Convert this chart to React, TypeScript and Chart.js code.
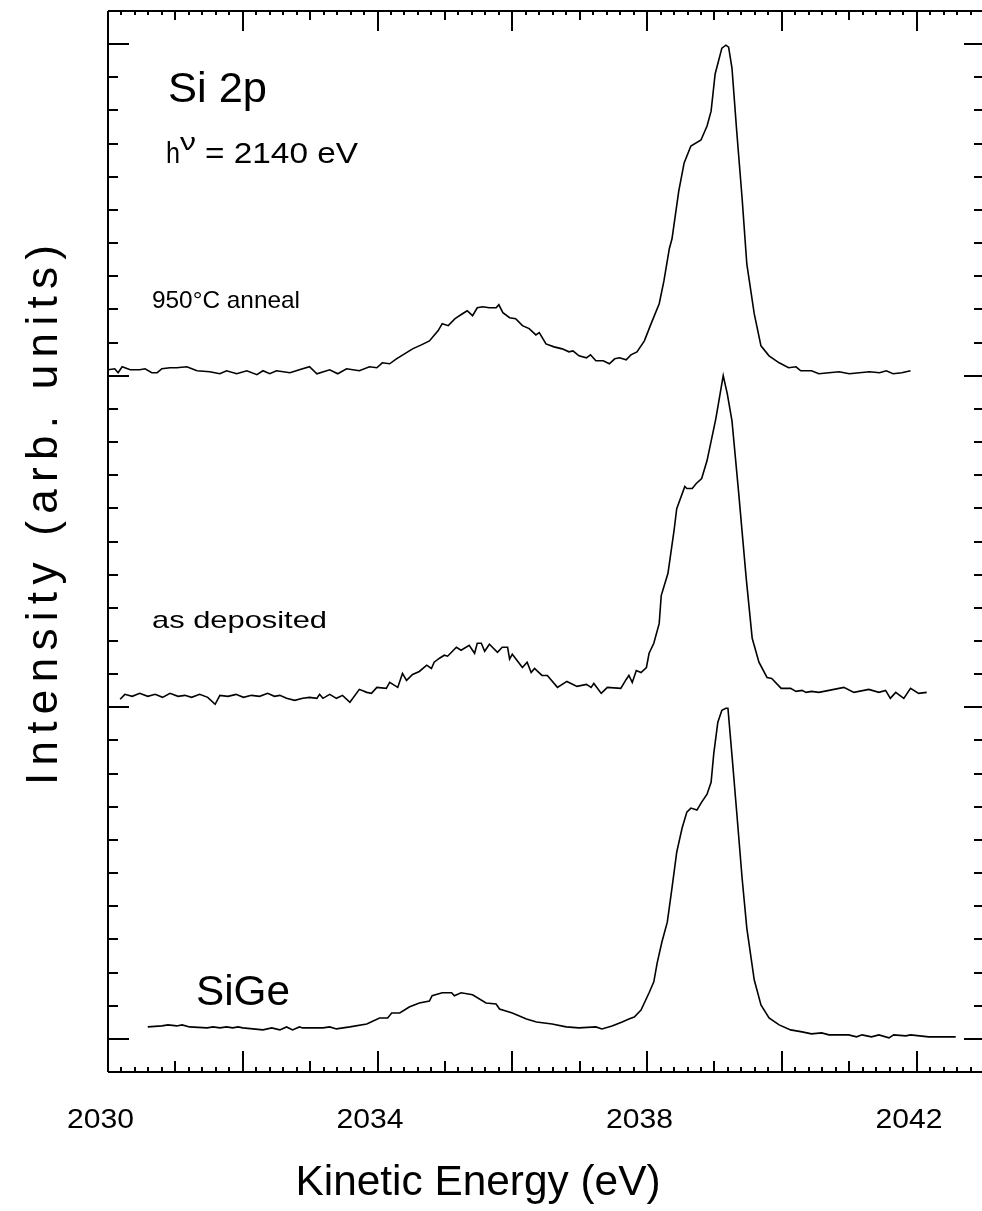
import React, { useEffect, useRef } from "react";
import { Chart, registerables } from "chart.js";

Chart.register(...registerables);

// ---- Data (Kinetic energy in eV, intensity in arb. units incl. vertical offsets) ----
const ANNEAL_950C: [number, number][] = [
  [2030.00, 2.018], [2030.10, 2.021], [2030.15, 2.009], [2030.21, 2.027], [2030.33, 2.018],
  [2030.47, 2.018], [2030.55, 2.021], [2030.65, 2.009], [2030.73, 2.009], [2030.80, 2.021],
  [2030.92, 2.024], [2031.02, 2.024], [2031.17, 2.027], [2031.32, 2.015], [2031.51, 2.012],
  [2031.66, 2.006], [2031.76, 2.015], [2031.91, 2.006], [2032.06, 2.015], [2032.21, 2.003],
  [2032.30, 2.015], [2032.40, 2.006], [2032.50, 2.015], [2032.70, 2.009], [2032.84, 2.018],
  [2032.99, 2.027], [2033.10, 2.006], [2033.29, 2.018], [2033.41, 2.006], [2033.54, 2.021],
  [2033.73, 2.015], [2033.88, 2.027], [2033.99, 2.024], [2034.07, 2.039], [2034.18, 2.036],
  [2034.28, 2.051], [2034.52, 2.081], [2034.65, 2.093], [2034.77, 2.105], [2034.90, 2.136],
  [2034.96, 2.157], [2035.05, 2.151], [2035.15, 2.172], [2035.26, 2.187], [2035.33, 2.196],
  [2035.41, 2.181], [2035.48, 2.205], [2035.56, 2.208], [2035.66, 2.205], [2035.76, 2.205],
  [2035.80, 2.214], [2035.86, 2.190], [2035.96, 2.175], [2036.05, 2.172], [2036.15, 2.151],
  [2036.25, 2.142], [2036.35, 2.123], [2036.40, 2.130], [2036.50, 2.096], [2036.62, 2.087],
  [2036.74, 2.081], [2036.84, 2.072], [2036.90, 2.075], [2036.99, 2.060], [2037.10, 2.054],
  [2037.16, 2.063], [2037.24, 2.045], [2037.35, 2.045], [2037.44, 2.036], [2037.52, 2.051],
  [2037.59, 2.054], [2037.69, 2.048], [2037.76, 2.063], [2037.85, 2.072], [2037.96, 2.105],
  [2038.06, 2.157], [2038.18, 2.217], [2038.25, 2.286], [2038.33, 2.383], [2038.37, 2.413],
  [2038.47, 2.557], [2038.55, 2.642], [2038.65, 2.693], [2038.80, 2.711], [2038.89, 2.753],
  [2038.95, 2.798], [2039.01, 2.910], [2039.11, 2.988], [2039.17, 2.997], [2039.21, 2.991],
  [2039.26, 2.928], [2039.33, 2.738], [2039.41, 2.536], [2039.48, 2.337], [2039.59, 2.187],
  [2039.69, 2.090], [2039.81, 2.060], [2039.96, 2.039], [2040.10, 2.024], [2040.21, 2.027],
  [2040.28, 2.015], [2040.44, 2.015], [2040.55, 2.006], [2040.70, 2.009], [2040.85, 2.012],
  [2041.00, 2.006], [2041.15, 2.009], [2041.30, 2.012], [2041.45, 2.009], [2041.55, 2.015],
  [2041.65, 2.006], [2041.78, 2.009], [2041.91, 2.015],
];

const AS_DEPOSITED: [number, number][] = [
  [2030.18, 1.024], [2030.25, 1.039], [2030.36, 1.033], [2030.47, 1.042], [2030.59, 1.033],
  [2030.70, 1.039], [2030.81, 1.030], [2030.92, 1.042], [2031.04, 1.033], [2031.14, 1.036],
  [2031.24, 1.030], [2031.36, 1.039], [2031.48, 1.030], [2031.59, 1.009], [2031.66, 1.036],
  [2031.78, 1.033], [2031.90, 1.039], [2032.01, 1.030], [2032.13, 1.036], [2032.25, 1.033],
  [2032.37, 1.042], [2032.47, 1.033], [2032.55, 1.036], [2032.65, 1.027], [2032.77, 1.021],
  [2032.89, 1.027], [2032.99, 1.030], [2033.10, 1.027], [2033.14, 1.039], [2033.19, 1.027],
  [2033.29, 1.039], [2033.39, 1.027], [2033.48, 1.036], [2033.59, 1.015], [2033.73, 1.054],
  [2033.84, 1.045], [2033.91, 1.042], [2033.99, 1.060], [2034.13, 1.057], [2034.18, 1.075],
  [2034.30, 1.060], [2034.37, 1.102], [2034.43, 1.081], [2034.52, 1.099], [2034.62, 1.108],
  [2034.73, 1.127], [2034.80, 1.117], [2034.84, 1.136], [2034.92, 1.148], [2034.99, 1.157],
  [2035.04, 1.154], [2035.17, 1.181], [2035.24, 1.172], [2035.36, 1.187], [2035.44, 1.163],
  [2035.48, 1.193], [2035.54, 1.193], [2035.59, 1.169], [2035.66, 1.190], [2035.78, 1.166],
  [2035.85, 1.181], [2035.93, 1.181], [2035.96, 1.145], [2036.00, 1.160], [2036.15, 1.120],
  [2036.22, 1.136], [2036.28, 1.105], [2036.33, 1.117], [2036.44, 1.096], [2036.52, 1.096],
  [2036.67, 1.060], [2036.81, 1.078], [2036.96, 1.063], [2037.10, 1.069], [2037.17, 1.060],
  [2037.21, 1.072], [2037.32, 1.042], [2037.41, 1.060], [2037.61, 1.057], [2037.69, 1.084],
  [2037.73, 1.096], [2037.78, 1.075], [2037.84, 1.111], [2037.91, 1.105], [2037.99, 1.120],
  [2038.03, 1.163], [2038.10, 1.193], [2038.18, 1.253], [2038.21, 1.337], [2038.31, 1.404],
  [2038.40, 1.533], [2038.44, 1.599], [2038.56, 1.666], [2038.59, 1.660], [2038.67, 1.660],
  [2038.73, 1.675], [2038.81, 1.690], [2038.89, 1.744], [2039.02, 1.870], [2039.13, 2.000],
  [2039.19, 1.946], [2039.26, 1.864], [2039.36, 1.645], [2039.47, 1.392], [2039.56, 1.208],
  [2039.66, 1.136], [2039.78, 1.090], [2039.85, 1.087], [2039.99, 1.057], [2040.13, 1.057],
  [2040.21, 1.048], [2040.30, 1.051], [2040.36, 1.045], [2040.44, 1.048], [2040.55, 1.045],
  [2040.70, 1.051], [2040.92, 1.060], [2041.07, 1.045], [2041.29, 1.054], [2041.44, 1.045],
  [2041.54, 1.051], [2041.61, 1.027], [2041.69, 1.045], [2041.81, 1.027], [2041.91, 1.057],
  [2042.03, 1.042], [2042.15, 1.045],
];

const SIGE: [number, number][] = [
  [2030.59, 0.036], [2030.80, 0.039], [2030.89, 0.042], [2031.02, 0.039], [2031.10, 0.042],
  [2031.21, 0.036], [2031.47, 0.033], [2031.56, 0.036], [2031.66, 0.033], [2031.76, 0.036],
  [2031.85, 0.033], [2031.93, 0.036], [2032.00, 0.033], [2032.30, 0.027], [2032.43, 0.033],
  [2032.55, 0.027], [2032.65, 0.036], [2032.74, 0.027], [2032.84, 0.036], [2032.89, 0.033],
  [2033.19, 0.033], [2033.29, 0.036], [2033.39, 0.030], [2033.59, 0.036], [2033.84, 0.045],
  [2034.03, 0.063], [2034.15, 0.063], [2034.21, 0.078], [2034.33, 0.078], [2034.47, 0.096],
  [2034.62, 0.108], [2034.77, 0.114], [2034.81, 0.130], [2034.96, 0.139], [2035.10, 0.139],
  [2035.14, 0.130], [2035.24, 0.139], [2035.41, 0.133], [2035.61, 0.108], [2035.76, 0.105],
  [2035.81, 0.090], [2036.00, 0.078], [2036.21, 0.060], [2036.36, 0.051], [2036.59, 0.045],
  [2036.80, 0.036], [2036.99, 0.033], [2037.24, 0.036], [2037.33, 0.030], [2037.48, 0.039],
  [2037.63, 0.051], [2037.73, 0.060], [2037.81, 0.066], [2037.91, 0.087], [2038.03, 0.139],
  [2038.10, 0.172], [2038.15, 0.229], [2038.22, 0.292], [2038.30, 0.352], [2038.37, 0.455],
  [2038.44, 0.563], [2038.52, 0.636], [2038.59, 0.684], [2038.65, 0.696], [2038.74, 0.690],
  [2038.81, 0.714], [2038.89, 0.738], [2038.95, 0.774], [2038.99, 0.861], [2039.05, 0.955],
  [2039.11, 0.991], [2039.17, 0.997], [2039.20, 0.997], [2039.26, 0.855], [2039.33, 0.684],
  [2039.41, 0.485], [2039.48, 0.334], [2039.59, 0.178], [2039.69, 0.102], [2039.81, 0.063],
  [2039.96, 0.042], [2040.13, 0.027], [2040.30, 0.021], [2040.44, 0.015], [2040.59, 0.018],
  [2040.70, 0.012], [2040.99, 0.012], [2041.11, 0.006], [2041.19, 0.012], [2041.33, 0.006],
  [2041.44, 0.012], [2041.59, 0.003], [2041.66, 0.012], [2041.84, 0.009], [2041.91, 0.012],
  [2042.18, 0.006], [2042.58, 0.006],
];

const SERIES_LABELS = ["950°C anneal", "as deposited", "SiGe"];
const X_TICK_VALUES = [2030, 2034, 2038, 2042];
const X_TICK_LABELS = ["2030", "2034", "2038", "2042"];
const X_MIN = 2030;
const X_MAX = 2043;
const X_MINOR_STEP = 0.2;
const Y_MIN = -0.1;
const Y_MAX = 3.1;
const Y_MINOR_STEP = 0.1;

const FONT = '"Liberation Sans", Arial, Helvetica, sans-serif';

function fitText(
  ctx: CanvasRenderingContext2D,
  text: string,
  x: number,
  y: number,
  size: number,
  width: number | null,
  align: "left" | "center" = "left"
) {
  ctx.save();
  ctx.font = `${size}px ${FONT}`;
  ctx.textBaseline = "alphabetic";
  ctx.textAlign = align;
  const w = ctx.measureText(text).width;
  const sx = width ? width / w : 1;
  ctx.translate(x, y);
  ctx.scale(sx, 1);
  ctx.fillText(text, 0, 0);
  ctx.restore();
}

const framePlugin = {
  id: "xpsFrame",
  afterDatasetsDraw(chart: any) {
    const { ctx, chartArea: a, scales } = chart;
    const xs = scales.x;
    const ys = scales.y;
    ctx.save();
    ctx.strokeStyle = "#000";
    ctx.lineWidth = 2;
    ctx.lineCap = "butt";
    const seg = (x1: number, y1: number, x2: number, y2: number) => {
      ctx.beginPath();
      ctx.moveTo(x1, y1);
      ctx.lineTo(x2, y2);
      ctx.stroke();
    };
    // frame
    seg(a.left, a.top, a.right, a.top);
    seg(a.left, a.bottom, a.right, a.bottom);
    seg(a.left, a.top, a.left, a.bottom);
    seg(a.right, a.top, a.right, a.bottom);

    // x ticks (bottom & top)
    const nx = Math.round((X_MAX - X_MIN) / X_MINOR_STEP);
    for (let i = 0; i <= nx; i++) {
      const v = X_MIN + i * X_MINOR_STEP;
      const px = Math.round(xs.getPixelForValue(v));
      const major = i % 10 === 0;
      const mid = i % 5 === 0;
      const lb = major ? 21 : mid ? 11 : 5;
      const lt = major ? 20 : mid ? 9 : 4;
      seg(px, a.bottom, px, a.bottom - lb);
      seg(px, a.top, px, a.top + lt);
    }
    // y ticks (left & right)
    const i0 = Math.round(Y_MIN / Y_MINOR_STEP);
    const i1 = Math.round(Y_MAX / Y_MINOR_STEP);
    for (let i = i0; i <= i1; i++) {
      const v = i * Y_MINOR_STEP;
      const py = Math.round(ys.getPixelForValue(v));
      const major = i % 10 === 0;
      seg(a.left, py, a.left + (major ? 21 : 10), py);
      seg(a.right, py, a.right - (major ? 20 : 10), py);
    }
    ctx.restore();

    // text
    ctx.save();
    ctx.fillStyle = "#000";
    X_TICK_VALUES.forEach((v, k) => {
      const px = xs.getPixelForValue(v);
      fitText(ctx, X_TICK_LABELS[k], px - 7.5, 1128, 28, 67, "center");
    });
    fitText(ctx, "Kinetic Energy (eV)", 478, 1195, 42, 365, "center");

    // y-axis title, rotated, letter-spaced
    ctx.save();
    ctx.translate(57, 515);
    ctx.rotate(-Math.PI / 2);
    ctx.font = `44px ${FONT}`;
    ctx.textBaseline = "alphabetic";
    ctx.textAlign = "left";
    const title = "Intensity (arb. units)";
    const chars = Array.from(title);
    const widths = chars.map((c) => ctx.measureText(c).width);
    const natural = widths.reduce((s, w) => s + w, 0);
    const target = 540;
    const gap = (target - natural) / (chars.length - 1);
    let cx = -target / 2;
    chars.forEach((c, k) => {
      ctx.fillText(c, cx, 0);
      cx += widths[k] + gap;
    });
    ctx.restore();

    // annotations
    fitText(ctx, "Si 2p", 168, 102, 42, 99);
    fitText(ctx, "h", 166, 163, 30, 14);
    fitText(ctx, "ν", 180, 150, 24, 16);
    fitText(ctx, "= 2140 eV", 205, 163, 29, 153);
    fitText(ctx, SERIES_LABELS[0], 152, 308, 24, 148);
    fitText(ctx, SERIES_LABELS[1], 152, 628, 24, 175);
    fitText(ctx, SERIES_LABELS[2], 196, 1005, 42, 94);
    ctx.restore();
  },
};

export default function App() {
  const ref = useRef<HTMLCanvasElement>(null);
  useEffect(() => {
    if (!ref.current) return;
    const mk = (pts: [number, number][], label: string) => ({
      label,
      data: pts.map(([x, y]) => ({ x, y })),
      showLine: true,
      borderColor: "#000",
      backgroundColor: "#000",
      borderWidth: 1.6,
      pointRadius: 0,
      pointHoverRadius: 0,
      fill: false,
      tension: 0,
    });
    const chart = new Chart(ref.current, {
      type: "scatter",
      data: {
        datasets: [
          mk(ANNEAL_950C, SERIES_LABELS[0]),
          mk(AS_DEPOSITED, SERIES_LABELS[1]),
          mk(SIGE, SERIES_LABELS[2]),
        ],
      },
      options: {
        responsive: false,
        animation: false,
        devicePixelRatio: 1,
        layout: { padding: { left: 108, top: 11, right: 6, bottom: 139 } },
        scales: {
          x: { type: "linear", min: X_MIN, max: X_MAX, display: false },
          y: { type: "linear", min: Y_MIN, max: Y_MAX, display: false },
        },
        plugins: {
          legend: { display: false },
          tooltip: { enabled: false },
        },
        events: [],
      },
      plugins: [framePlugin],
    } as any);
    return () => chart.destroy();
  }, []);
  return (
    <div
      style={{
        position: "fixed",
        left: 0,
        top: 0,
        width: 982,
        height: 1211,
        overflow: "hidden",
        background: "#fff",
      }}
    >
      <canvas ref={ref} width={990} height={1211} style={{ display: "block" }} />
    </div>
  );
}
